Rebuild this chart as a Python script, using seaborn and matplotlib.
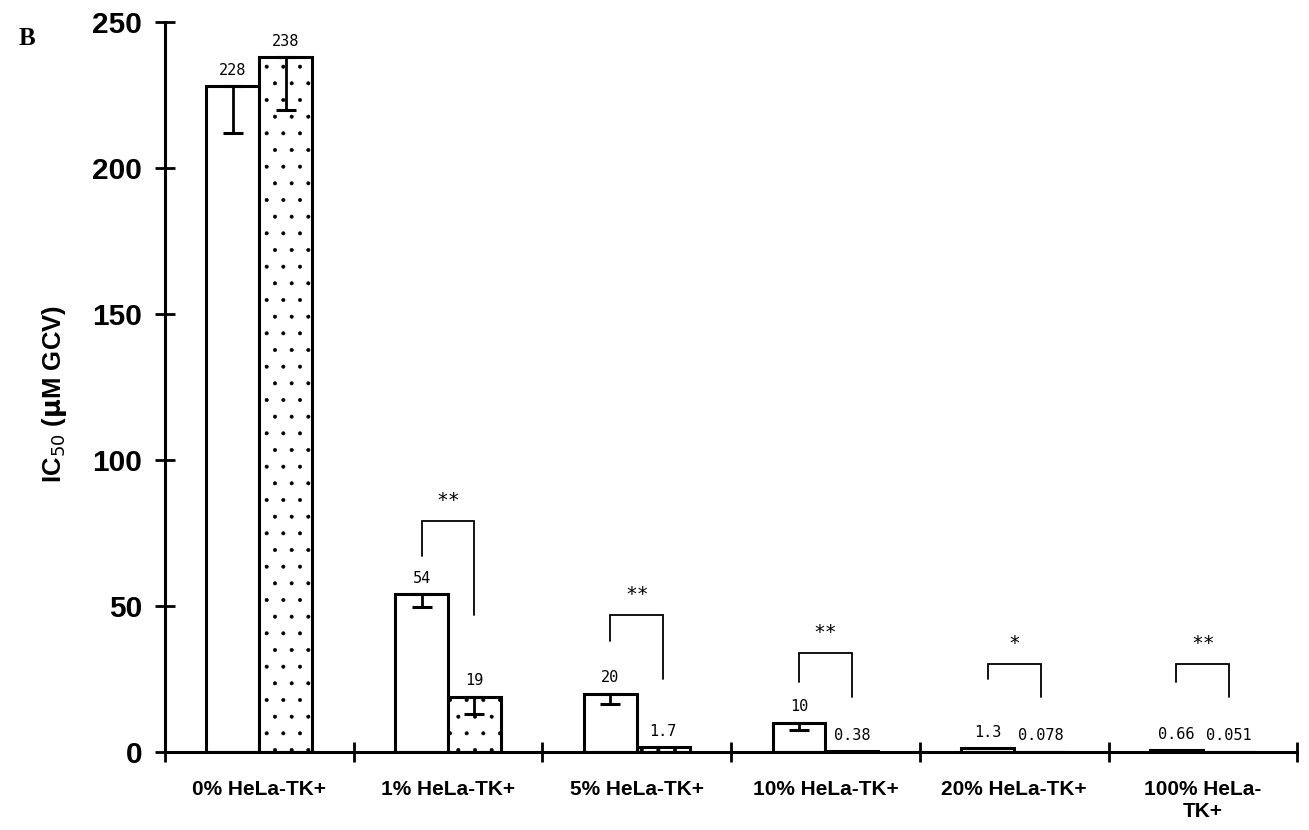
import matplotlib
matplotlib.use("Agg")
import matplotlib.pyplot as plt
from matplotlib import font_manager
import seaborn as sns
import pandas as pd
import numpy as np

# --- data -------------------------------------------------------------
categories = ["0% HeLa-TK+", "1% HeLa-TK+", "5% HeLa-TK+",
              "10% HeLa-TK+", "20% HeLa-TK+", "100% HeLa-\nTK+"]
series = ["open", "dotted"]
open_vals = [228, 54, 20, 10, 1.3, 0.66]
dotted_vals = [238, 19, 1.7, 0.38, 0.078, 0.051]
open_err = [16, 4.5, 3.5, 2.5, 0.0, 0.0]
dotted_err = [18, 6, 0.0, 0.0, 0.0, 0.0]
open_labels = ["228", "54", "20", "10", "1.3", "0.66"]
dotted_labels = ["238", "19", "1.7", "0.38", "0.078", "0.051"]

# significance brackets: top, left-leg bottom, right-leg bottom
sig_marks = ["", "**", "**", "**", "*", "**"]
sig_top = [None, 79, 47, 34, 30, 30]
sig_left = [None, 67, 38, 24, 25, 24]
sig_right = [None, 47, 25, 19, 19, 19]

df = pd.DataFrame({
    "group": categories * 2,
    "series": [series[0]] * len(categories) + [series[1]] * len(categories),
    "ic50": open_vals + dotted_vals,
})

sns.set_theme(style="white")
plt.rcParams["font.family"] = ["Liberation Sans", "DejaVu Sans"]
plt.rcParams["hatch.linewidth"] = 0.4
for key in ("text.color", "axes.labelcolor", "xtick.color", "ytick.color"):
    plt.rcParams[key] = "black"

available = {f.name for f in font_manager.fontManager.ttflist}
xlabel_family = ["Liberation Sans Narrow"] if "Liberation Sans Narrow" in available \
    else ["Liberation Sans"]
xlabel_size = 17.5 if "Liberation Sans Narrow" in available else 15

fig = plt.figure(figsize=(13.09, 8.30), dpi=100)
ax = fig.add_axes([0.126, 0.094, 0.865, 0.8795])

sns.barplot(data=df, x="group", y="ic50", hue="series", order=categories,
            hue_order=series, palette=["white", "white"], width=0.56,
            errorbar=None, edgecolor="black", linewidth=2.2, ax=ax,
            legend=False, saturation=1)

n = len(categories)
bars = ax.patches[:2 * n]
open_bars = bars[:n]
dotted_bars = bars[n:]
for b in dotted_bars:
    b.set_hatch(".")

def centers(bs):
    return [b.get_x() + b.get_width() / 2 for b in bs]

xo = centers(open_bars)
xd = centers(dotted_bars)

# downward-only error bars
for xs, vals, errs in ((xo, open_vals, open_err), (xd, dotted_vals, dotted_err)):
    for x, v, e in zip(xs, vals, errs):
        if e > 0:
            ax.errorbar(x, v, yerr=[[e], [0]], fmt="none", ecolor="black",
                        elinewidth=2.0, capsize=7, capthick=2.2)

# value labels
for xs, vals, labs in ((xo, open_vals, open_labels), (xd, dotted_vals, dotted_labels)):
    for x, v, t in zip(xs, vals, labs):
        ax.annotate(t, (x, v), xytext=(0, 6), textcoords="offset points",
                    ha="center", va="bottom", family="DejaVu Sans Mono",
                    fontsize=11)

# significance brackets
for i in range(n):
    if sig_top[i] is None:
        continue
    xl, xr = xo[i], xd[i]
    ax.plot([xl, xl, xr, xr], [sig_left[i], sig_top[i], sig_top[i], sig_right[i]],
            color="black", lw=1.3, solid_joinstyle="miter")
    ax.annotate(sig_marks[i], ((xl + xr) / 2, sig_top[i]), xytext=(0, 8),
                textcoords="offset points", ha="center", va="bottom",
                fontsize=14, family="DejaVu Sans Mono")

# axes styling
ax.set_xlim(-0.5, n - 0.5)
ax.set_ylim(0, 250)
ax.set_yticks([0, 50, 100, 150, 200, 250])
ax.set_yticklabels(["0", "50", "100", "150", "200", "250"],
                   fontsize=21.5, fontweight="bold")
ax.set_xticks(range(n))
ax.set_xticklabels(categories, fontsize=xlabel_size, fontweight="bold",
                   family=xlabel_family)
ax.set_xticks(np.arange(-0.5, n, 1.0), minor=True)
ax.tick_params(axis="x", which="major", length=0, pad=20)
ax.tick_params(axis="x", which="minor", length=14, width=2, direction="inout",
               color="black", bottom=True)
ax.tick_params(axis="y", which="major", length=15, width=2, direction="inout",
               color="black", left=True, pad=9)
for side in ("top", "right"):
    ax.spines[side].set_visible(False)
for side in ("left", "bottom"):
    ax.spines[side].set_color("black")
    ax.spines[side].set_linewidth(2.2)

ax.set_xlabel("")
ax.set_ylabel(r"IC$_{50}$ ($\mathbf{\mu}$M GCV)", fontsize=18.5, fontweight="bold")
ax.yaxis.set_label_coords(-0.085, 0.49)

fig.text(0.014, 0.946, "B", fontsize=18, fontweight="bold",
         family="Liberation Serif")

fig.savefig("out.png", dpi=100)
